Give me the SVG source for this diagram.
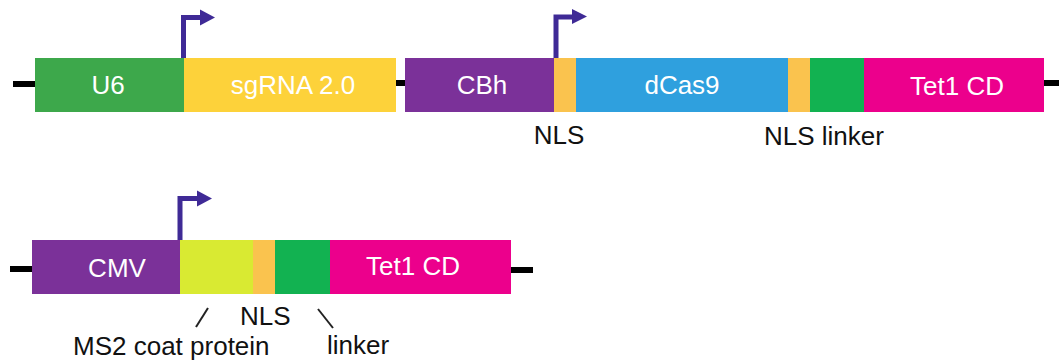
<svg xmlns="http://www.w3.org/2000/svg" width="1059" height="363" viewBox="0 0 1059 363">
<defs>
<style>
text{font-family:"Liberation Sans",Arial,sans-serif;}
.lbl{font-size:26px;fill:#ffffff;text-anchor:middle;}
.ann{font-size:26px;fill:#111111;}
.bb{fill:#000000;}
.prom{fill:none;stroke:#3F2A96;stroke-width:5;}
.head{fill:#3F2A96;}
.tick{stroke:#222222;stroke-width:2;}
</style>
</defs>
<rect width="1059" height="363" fill="#ffffff"/>
<g id="connectors">
<rect class="bb" x="13" y="81" width="23" height="6"/>
<rect class="bb" x="396" y="80" width="10" height="6"/>
<rect class="bb" x="1043" y="80" width="16" height="6"/>
<rect class="bb" x="10" y="266" width="23" height="6"/>
<rect class="bb" x="510" y="267" width="23" height="6"/>
</g>
<g id="U6"><rect x="35" y="58" width="149" height="54" fill="#3DA84B"/><text class="lbl" x="108" y="94">U6</text></g>
<g id="sgRNA"><rect x="184" y="58" width="212" height="54" fill="#FDD23A"/><text class="lbl" x="293" y="94">sgRNA 2.0</text></g>
<g id="CBh"><rect x="405" y="58" width="149" height="54" fill="#7B3199"/><text class="lbl" x="482" y="94">CBh</text></g>
<g id="NLS1"><rect x="554" y="58" width="22" height="54" fill="#FAC34E"/></g>
<g id="dCas9"><rect x="576" y="58" width="212" height="54" fill="#2FA0DE"/><text class="lbl" x="682" y="94">dCas9</text></g>
<g id="NLS2"><rect x="788" y="58" width="22" height="54" fill="#FAC34E"/></g>
<g id="linker1"><rect x="810" y="58" width="54" height="54" fill="#12B251"/></g>
<g id="Tet1CD1"><rect x="864" y="58" width="180" height="54" fill="#EC008C"/><text class="lbl" x="957" y="95">Tet1 CD</text></g>
<g id="CMV"><rect x="32" y="240" width="148" height="54" fill="#7B3199"/><text class="lbl" x="117" y="277">CMV</text></g>
<g id="MS2"><rect x="180" y="240" width="73" height="54" fill="#D9EA32"/></g>
<g id="NLS3"><rect x="253" y="240" width="22" height="54" fill="#FAC34E"/></g>
<g id="linker2"><rect x="275" y="240" width="55" height="54" fill="#12B251"/></g>
<g id="Tet1CD2"><rect x="330" y="240" width="181" height="54" fill="#EC008C"/><text class="lbl" x="413" y="275">Tet1 CD</text></g>
<g id="promoter1"><path class="prom" d="M183.5 58 V17.5 H201"/><polygon class="head" points="200,9.5 215,17.5 200,25.5"/></g>
<g id="promoter2"><path class="prom" d="M556 58 V17 H573"/><polygon class="head" points="572,9 587,16.5 572,24"/></g>
<g id="promoter3"><path class="prom" d="M180 240 V198.5 H198"/><polygon class="head" points="197,190.5 212,198.5 197,206.5"/></g>
<g id="annotations">
<text class="ann" x="559" y="144" text-anchor="middle">NLS</text>
<text class="ann" x="764" y="145">NLS linker</text>
<line class="tick" x1="196" y1="327" x2="208" y2="308"/>
<text class="ann" x="240" y="325">NLS</text>
<line class="tick" x1="318" y1="309" x2="333" y2="328"/>
<text class="ann" x="73" y="355">MS2 coat protein</text>
<text class="ann" x="327" y="354">linker</text>
</g>
</svg>
